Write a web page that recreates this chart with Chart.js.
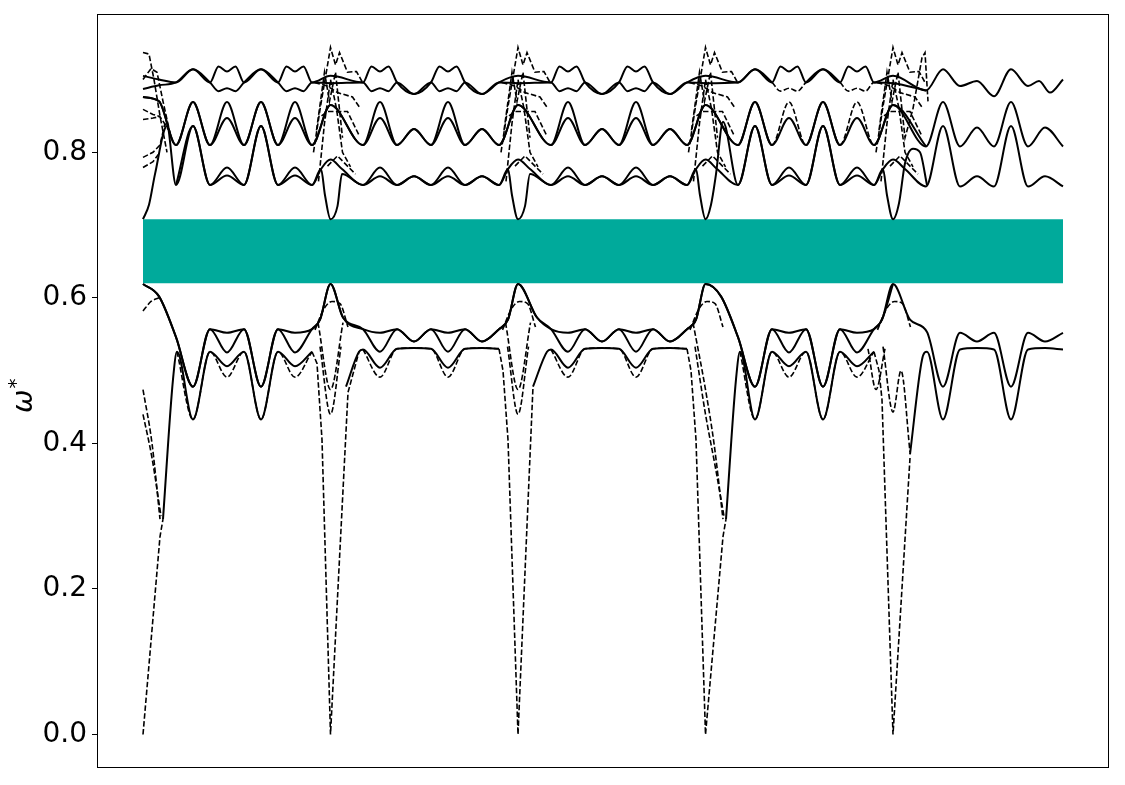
<!DOCTYPE html>
<html>
<head>
<meta charset="utf-8">
<script src="https://cdn.jsdelivr.net/npm/chart.js@4/dist/chart.umd.min.js"></script>
<style>
html,body{margin:0;padding:0;background:#fff;}
#c{display:block;}
</style>
</head>
<body>
<canvas id="c" width="1125" height="785"></canvas>
<script>
// ---- axis ranges / ticks ----
const X_RANGE = [-46, 966];
const Y_RANGE = [-0.046, 0.99];
const Y_TICKS = [0.0, 0.2, 0.4, 0.6, 0.8];
// band gap (teal)
const GAP_LOW = [[0, 0.620], [920, 0.620]];
const GAP_HIGH = 0.708;
// path ranges drawn dashed inside otherwise solid bands
const DASHED_RANGES = [[629, 663], [697, 731]];

// ---- solid curves [path coordinate, omega*] ----
const TOP_UPPER = [
[0,.905],[16,.900],[33,.896],[50,.914],[67,.896],[75.5,.918],[84,.911],[92.5,.918],[101,.896],[118,.914],[135,.896],[143.5,.918],[152,.911],[160.5,.918],[169,.896],[187.5,.905],
[220,.896],[228.5,.918],[237,.911],[245.5,.918],[254,.896],[271,.880],[288,.896],[296.5,.918],[305,.911],[313.5,.918],[322,.896],[339,.880],[356,.896],[375,.905],
[408,.896],[416.5,.918],[425,.911],[433.5,.918],[442,.896],[459,.880],[476,.896],[484.5,.918],[493,.911],[501.5,.918],[510,.896],[527,.880],[544,.896],[562.5,.905],
[595,.896],[612,.914],[629,.896],[637.5,.918],[646,.911],[654.5,.918],[663,.896],[680,.914],[697,.896],[705.5,.918],[714,.911],[722.5,.918],[731,.896],[750,.905],
[783,.885],[800,.914],[817,.891],[834,.898],[851,.877],[868,.914],[885,.891],[896,.898],[907,.882],[920,.900]
];
const TOP_LOWER = [
[0,.887],[16,.892],[33,.896],[50,.914],[67,.896],[75.5,.884],[84,.888],[92.5,.884],[101,.896],[118,.914],[135,.896],[143.5,.884],[152,.888],[160.5,.884],[169,.896],[187.5,.895],
[220,.896],[228.5,.884],[237,.888],[245.5,.884],[254,.896],[271,.880],[288,.896],[296.5,.884],[305,.888],[313.5,.884],[322,.896],[339,.880],[356,.896],[375,.895],
[408,.896],[416.5,.884],[425,.888],[433.5,.884],[442,.896],[459,.880],[476,.896],[484.5,.884],[493,.888],[501.5,.884],[510,.896],[527,.880],[544,.896],[562.5,.895],
[595,.896],[612,.914],[629,.896],[637.5,.884],[646,.888],[654.5,.884],[663,.896],[680,.914],[697,.896],[705.5,.884],[714,.888],[722.5,.884],[731,.896],[750,.895],[783,.885]
];
const MID_UPPER = [
[0,.876],[16,.870],[33,.810],[50,.869],[67,.810],[84,.869],[101,.810],[118,.869],[135,.810],[152,.869],[169,.810],[187.5,.865],
[220,.810],[237,.869],[254,.810],[271,.832],[288,.810],[305,.869],[322,.810],[339,.832],[356,.810],[375,.865],
[408,.810],[425,.869],[442,.810],[459,.832],[476,.810],[493,.869],[510,.810],[527,.832],[544,.810],[562.5,.865],
[595,.810],[612,.869],[629,.810],[646,.869],[663,.810],[680,.869],[697,.810],[714,.869],[731,.810],[750,.865],
[783,.808],[800,.869],[817,.808],[834,.834],[851,.808],[868,.869],[885,.808],[902,.834],[920,.808]
];
const MID_LOWER = [
[0,.876],[16,.870],[33,.810],[50,.869],[67,.810],[84,.847],[101,.810],[118,.869],[135,.810],[152,.847],[169,.810],[187.5,.865],
[220,.810],[237,.847],[254,.810],[271,.832],[288,.810],[305,.847],[322,.810],[339,.832],[356,.810],[375,.865],
[408,.810],[425,.847],[442,.810],[459,.832],[476,.810],[493,.847],[510,.810],[527,.832],[544,.810],[562.5,.865],
[595,.810],[612,.869],[629,.810],[646,.847],[663,.810],[680,.869],[697,.810],[714,.847],[731,.810],[750,.865],[783,.808]
];
const LOWTOP_UPPER = [
[33,.755],[50,.836],[67,.755],[84,.779],[101,.755],[118,.836],[135,.755],[152,.779],[169,.755],[178,.777],[187.5,.79],[199,.777],
[220,.755],[237,.779],[254,.755],[271,.767],[288,.755],[305,.779],[322,.755],[339,.767],[356,.755],[365,.777],[375,.79],[387,.777],
[408,.755],[425,.779],[442,.755],[459,.767],[476,.755],[493,.779],[510,.755],[527,.767],[544,.755],[553,.777],[562.5,.79],[574,.777],
[595,.755],[612,.836],[629,.755],[646,.779],[663,.755],[680,.836],[697,.755],[714,.779],[731,.755],[740,.777],[750,.79],[762,.777],
[783,.753],[800,.836],[817,.753],[834,.767],[851,.753],[868,.836],[885,.753],[902,.767],[920,.753]
];
const LOWTOP_LOWER = [
[0,.708],[6,.728],[12,.770],[24,.836],[33,.755],[50,.836],[67,.755],[84,.768],[101,.755],[118,.836],[135,.755],[152,.768],[169,.755],[178,.777],[182,.741],[187.5,.708],[194.5,.726],[199,.770],
[220,.755],[237,.767],[254,.755],[271,.767],[288,.755],[305,.767],[322,.755],[339,.767],[356,.755],[365,.777],[369,.741],[375,.708],[382,.726],[387,.770],
[408,.755],[425,.767],[442,.755],[459,.767],[476,.755],[493,.767],[510,.755],[527,.767],[544,.755],[553,.777],[557,.741],[562.5,.708],[568,.728],[573,.770],[580,.842],[595,.755],
[612,.836],[629,.755],[646,.768],[663,.755],[680,.836],[697,.755],[714,.768],[731,.755],[740,.777],[744,.741],[750,.708],[756,.730],[762,.785],[770,.805],[777,.80],[784,.755]
];
const LOW_UPPER = [
[0,.619],[16,.602],[33,.546],[50,.478],[67,.557],[84,.552],[101,.557],[118,.478],[135,.557],[152,.552],[169,.557],[177,.570],[187.5,.619],
[200,.573],[220,.557],[237,.552],[254,.557],[271,.540],[288,.557],[305,.552],[322,.557],[339,.540],[356,.557],[365,.570],[375,.619],
[394,.573],[408,.557],[425,.552],[442,.557],[459,.540],[476,.557],[493,.552],[510,.557],[527,.540],[544,.557],[553,.570],[562.5,.619],
[578,.602],[595,.546],[612,.478],[629,.557],[646,.552],[663,.557],[680,.478],[697,.557],[714,.552],[731,.557],[739,.570],[750,.619],
[767,.570],[784,.553],[800,.478],[817,.552],[834,.540],[851,.552],[868,.478],[885,.552],[902,.540],[920,.552]
];
const LOW_MID = [
[0,.619],[16,.602],[33,.546],[50,.478],[67,.557],[84,.525],[101,.557],[118,.478],[135,.557],[152,.525],[169,.557],[177,.570],[187.5,.619],
[200,.573],[220,.557],[237,.526],[254,.557],[271,.540],[288,.557],[305,.526],[322,.557],[339,.540],[356,.557],[365,.570],[375,.619],
[394,.573],[408,.557],[425,.526],[442,.557],[459,.540],[476,.557],[493,.526],[510,.557],[527,.540],[544,.557],[553,.570],[562.5,.619],
[578,.602],[595,.546],[612,.478],[629,.557],[646,.525],[663,.557],[680,.478],[697,.557],[714,.525],[731,.557],[739,.570],[750,.619]
];
const LOW_LOWER = [
[20,.296],[30,.488],[34,.526],[50,.433],[67,.526],[84,.506],[101,.526],[118,.433],[135,.526],[152,.506],[169,.526],[178,null],
[203,.478],[216,.526],[220,.529],[237,.504],[254,.530],[271,.531],[288,.530],[305,.504],[322,.530],[339,.531],[356,.530],[366,null],
[390,.478],[404,.526],[408,.529],[425,.504],[442,.530],[459,.531],[476,.530],[493,.504],[510,.530],[527,.531],[544,.530],[553,null],
[583,.296],[593,.488],[597,.526],[612,.433],[629,.526],[646,.506],[663,.526],[680,.433],[697,.526],[714,.506],[731,.526],[740,null],
[767,.385],[779,.515],[784,.526],[800,.433],[817,.529],[834,.531],[851,.529],[868,.433],[885,.529],[902,.531],[920,.529]
];

// ---- dashed curves ----
const LOW_DASHED = [
[34,.526],[50,.433],[67,.526],[84,.491],[101,.526],[118,.433],[135,.526],[152,.491],[169,.526],[178,null],
[220,.529],[237,.491],[254,.530],[271,.531],[288,.530],[305,.491],[322,.530],[339,.531],[356,.530],[366,null],
[408,.529],[425,.491],[442,.530],[459,.531],[476,.530],[493,.491],[510,.530],[527,.531],[544,.530],[553,null],
[597,.526],[612,.433],[629,.526],[646,.491],[663,.526],[680,.433],[697,.526],[714,.491],[731,.526]
];
const ACOUSTIC = [
[0,0],[17,.272],[20,.296],[21,null],
[169,.526],[174,.51],[179,.405],[187.5,0],[205,.47],[216,.526],[217,null],
[356,.530],[360,.50],[365,.405],[375,0],[390,.478],[391,null],
[544,.530],[548,.50],[553,.405],[562.5,0],[580,.272],[583,.296],[584,null],
[731,.526],[736,.50],[739,.46],[750,0],[767,.38]
];
const DASHED_U1 = [
[0,.474],[9,.40],[17,.296],[18,null],
[175,.566],[187.5,.474],[200,.566],[201,null],
[362.5,.566],[375,.474],[387.5,.566],[388,null],
[550,.566],[562.5,.474],[571,.40],[580,.296],[581,null],
[725,.530],[733,.474],[742,.530]
];
const DASHED_U2 = [
[0,.440],[9,.38],[18,.300],[19,null],
[177,.533],[187.5,.440],[198,.533],[199,null],
[364.5,.533],[375,.440],[385.5,.533],[386,null],
[552,.533],[562.5,.440],[572,.37],[581,.300],[582,null],
[740,.533],[750,.443],[758,.50],[767,.388]
];
const DASHED_P = [
[0,.582],[8,.595],[16,.600],[17,null],
[172,.556],[181,.585],[189,.595],[197,.592],[205,.560],[206,null],
[359.5,.556],[368.5,.585],[376.5,.595],[384.5,.592],[392.5,.560],[393,null],
[547,.556],[556,.585],[564,.595],[572,.592],[580,.560],[581,null],
[734.5,.556],[743.5,.585],[751.5,.595],[759.5,.592],[767.5,.560]
];
const DASHED_T1 = [
[0,.937],[6,.935],[11,.90],[17,.85],[24,.80],[25,null],
[170.5,.80],[177.5,.863],[187.5,.944],[192.5,.92],[196.5,.937],[204.5,.91],[213.5,.911],[219.5,.896],[220,null],
[358,.80],[365,.863],[375,.944],[380,.92],[384,.937],[392,.91],[401,.911],[407,.896],[408,null],
[545.5,.80],[552.5,.863],[562.5,.944],[567.5,.92],[571.5,.937],[579.5,.91],[588.5,.911],[594.5,.896],[595,null],
[733,.80],[740,.863],[750,.944],[755,.92],[759,.937],[767,.91],[776,.911],[782,.896]
];
const DASHED_T2 = [
[0,.900],[8,.915],[14,.91],[20,.87],[28,.82],[29,null],
[171.5,.896],[184.5,.891],[194.5,.882],[209.5,.876],[217.5,.86],[218,null],
[359,.896],[372,.891],[382,.882],[397,.876],[405,.86],[406,null],
[546.5,.896],[559.5,.891],[569.5,.882],[584.5,.876],[592.5,.86],[593,null],
[734,.896],[747,.891],[757,.882],[772,.876],[780,.86]
];
const DASHED_T3 = [
[0,.859],[10,.852],[17,.849],[26,.83],[27,null],
[178.5,.85],[184.5,.856],[204.5,.856],[216.5,.822],[217,null],
[366,.85],[372,.856],[392,.856],[404,.822],[405,null],
[553.5,.85],[559.5,.856],[579.5,.856],[591.5,.822],[592,null],
[741,.85],[747,.856],[767,.856],[779,.822]
];
const DASHED_T4 = [
[0,.793],[10,.80],[17,.81],[22,.84],[23,null],
[184.5,.781],[194.5,.795],[204.5,.781],[212.5,.77],[213,null],
[372,.781],[382,.795],[392,.781],[400,.77],[401,null],
[559.5,.781],[569.5,.795],[579.5,.781],[587.5,.77],[588,null],
[747,.781],[757,.795],[767,.781],[775,.77]
];
const DASHED_T5 = [
[0,.779],[10,.787],[17,.80],[18,null],
[173.5,.83],[181.5,.91],[186.5,.87],[192.5,.91],[199.5,.82],[200,null],
[361,.83],[369,.91],[374,.87],[380,.91],[387,.82],[388,null],
[548.5,.83],[556.5,.91],[561.5,.87],[567.5,.91],[574.5,.82],[575,null],
[736,.83],[744,.91],[749,.87],[755,.91],[762,.82],[770,.86],[779,.93],[782,.937],[785,.87]
];
const DASHED_T6 = [
[0,.845],[10,.847],[17,.849],[18,null],
[175.5,.76],[181.5,.84],[187.5,.90],[193.5,.86],[199.5,.80],[207.5,.78],[208,null],
[363,.76],[369,.84],[375,.90],[381,.86],[387,.80],[395,.78],[396,null],
[550.5,.76],[556.5,.84],[562.5,.90],[568.5,.86],[574.5,.80],[582.5,.78],[583,null],
[738,.76],[744,.84],[750,.90],[756,.86],[762,.80],[770,.78]
];

// ---- build chart ----
const DASH = [5.5, 2.4];
const toPts = arr => arr.map(p => ({x: p[0], y: p[1]}));
const inDashedRange = c => DASHED_RANGES.some(r => c.p0.parsed.x >= r[0] && c.p1.parsed.x <= r[1]);
function solidSet(arr, partDashed) {
  const ds = {data: toPts(arr), borderColor: '#000', borderWidth: 2, pointRadius: 0,
    cubicInterpolationMode: 'monotone', fill: false, order: 1, borderJoinStyle: 'round'};
  if (partDashed) ds.segment = {borderDash: c => inDashedRange(c) ? DASH : undefined,
                                borderWidth: c => inDashedRange(c) ? 1.6 : undefined};
  return ds;
}
function dashedSet(arr, straight) {
  return {data: toPts(arr), borderColor: '#000', borderWidth: 1.6, borderDash: DASH, pointRadius: 0,
    cubicInterpolationMode: straight ? 'default' : 'monotone', tension: 0, fill: false, order: 5};
}

const datasets = [
  solidSet(TOP_UPPER), solidSet(TOP_LOWER, true), solidSet(MID_LOWER), solidSet(MID_UPPER, true),
  solidSet(LOWTOP_UPPER), solidSet(LOWTOP_LOWER), solidSet(LOW_UPPER), solidSet(LOW_MID), solidSet(LOW_LOWER),
  dashedSet(LOW_DASHED, false), dashedSet(ACOUSTIC, true), dashedSet(DASHED_U1, false), dashedSet(DASHED_U2, false),
  dashedSet(DASHED_P, false), dashedSet(DASHED_T1, true), dashedSet(DASHED_T2, true), dashedSet(DASHED_T3, true),
  dashedSet(DASHED_T4, true), dashedSet(DASHED_T5, true), dashedSet(DASHED_T6, true),
  {data: toPts(GAP_LOW), borderWidth: 0, pointRadius: 0, backgroundColor: '#00AA9B',
   fill: {value: GAP_HIGH}, order: 100}
];

const framePlugin = {
  id: 'frame',
  afterDraw(chart) {
    const a = chart.chartArea, ctx = chart.ctx;
    ctx.save();
    ctx.strokeStyle = '#000';
    ctx.lineWidth = 1;
    ctx.strokeRect(Math.round(a.left) + 0.5, Math.round(a.top) + 0.5,
      Math.round(a.right - a.left) - 1, Math.round(a.bottom - a.top) - 1);
    // y-axis label: omega with superscript star
    ctx.fillStyle = '#000';
    ctx.translate(32, (a.top + a.bottom) / 2);
    ctx.rotate(-Math.PI / 2);
    ctx.textBaseline = 'alphabetic';
    ctx.textAlign = 'left';
    ctx.font = 'italic 28px "DejaVu Sans"';
    const w1 = ctx.measureText('ω').width;
    const u0 = -22;
    ctx.fillText('ω', u0, 0);
    ctx.font = '20px "DejaVu Sans"';
    ctx.fillText('*', u0 + w1 + 1, -10);
    ctx.restore();
  }
};

new Chart(document.getElementById('c'), {
  type: 'line',
  data: {datasets},
  options: {
    responsive: false,
    devicePixelRatio: 1,
    animation: false,
    layout: {padding: {top: 14, right: 16, bottom: 17, left: 0}},
    plugins: {legend: {display: false}, tooltip: {enabled: false}},
    scales: {
      x: {type: 'linear', min: X_RANGE[0], max: X_RANGE[1], display: false},
      y: {
        type: 'linear', min: Y_RANGE[0], max: Y_RANGE[1],
        afterBuildTicks: s => { s.ticks = Y_TICKS.map(v => ({value: v})); },
        afterFit: s => { s.width = 97; s.paddingTop = 0; s.paddingBottom = 0; },
        ticks: {callback: v => Number(v).toFixed(1), color: '#000', padding: 5,
          font: {family: 'DejaVu Sans', size: 28}},
        grid: {drawOnChartArea: false, drawTicks: true, tickLength: 5, color: '#000', lineWidth: 1},
        border: {display: false}
      }
    }
  },
  plugins: [framePlugin]
});
</script>
</body>
</html>
